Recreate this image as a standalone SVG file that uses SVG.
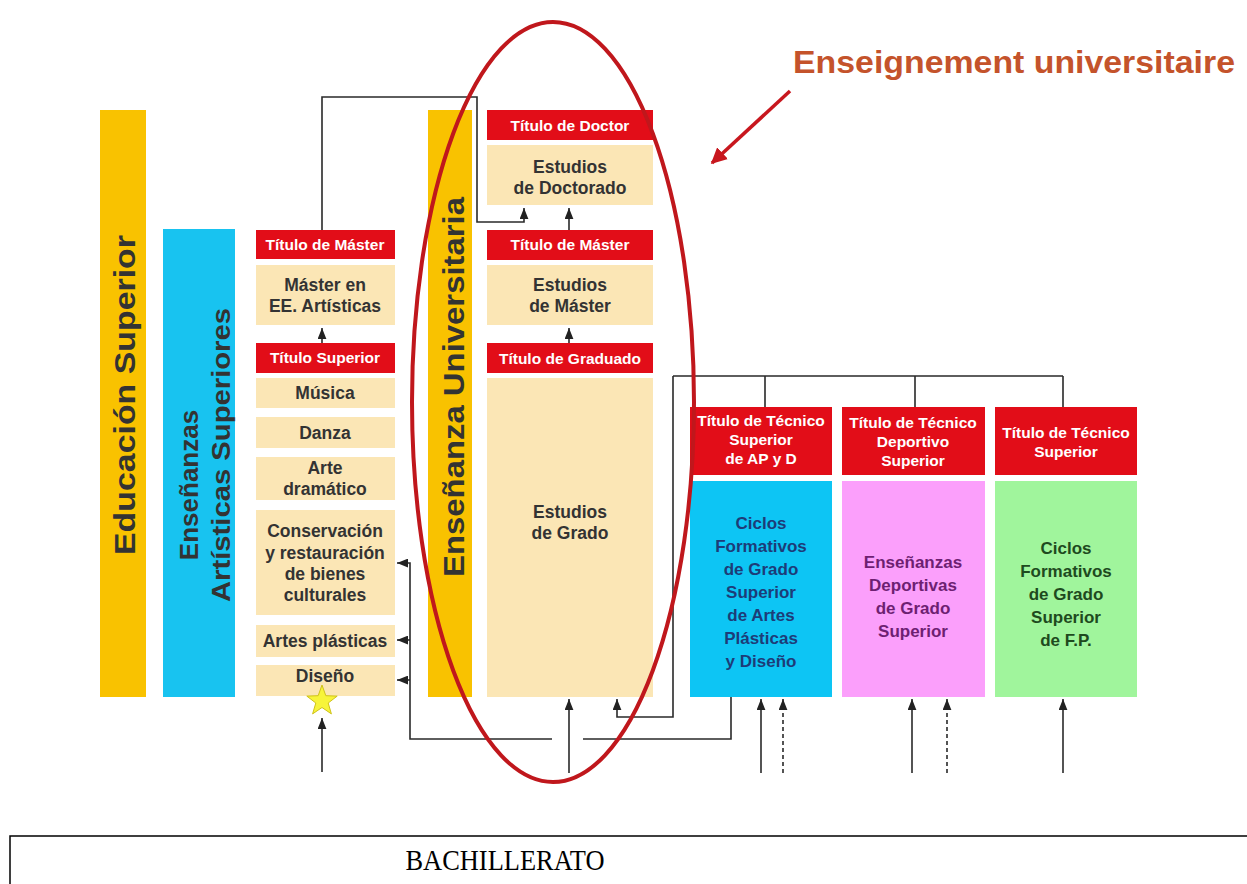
<svg xmlns="http://www.w3.org/2000/svg" width="1247" height="884" viewBox="0 0 1247 884">
<style>
.t{font-family:"Liberation Sans",Arial,sans-serif;font-weight:bold;text-anchor:middle}
.hd{fill:#ffffff;font-size:15.5px}
.bd{fill:#333333;font-size:17.5px}
.vt{fill:#333333}
.red{fill:#e20d18}
.cream{fill:#fbe6b5}
.gold{fill:#f9c200}
.ln{fill:none;stroke:#2a2a2a;stroke-width:1.6}
.ar{marker-end:url(#ah)}
.dash{stroke-dasharray:4 3}
</style>
<defs>
<marker id="ah" viewBox="0 0 10 8" refX="10" refY="4" markerWidth="11" markerHeight="9" orient="auto" markerUnits="userSpaceOnUse">
<path d="M0,0 L10,4 L0,8 z" fill="#222222"/>
</marker>
<marker id="rah" viewBox="0 0 10 10" refX="9" refY="5" markerWidth="16" markerHeight="16" orient="auto" markerUnits="userSpaceOnUse">
<path d="M0,0 L10,5 L0,10 z" fill="#c8171e"/>
</marker>
</defs>
<rect x="0" y="0" width="1247" height="884" fill="#ffffff"/>

<g id="educacion-superior">
<rect class="gold" x="100" y="110" width="46" height="587"/>
<text class="t vt" font-size="29" textLength="320" lengthAdjust="spacingAndGlyphs" transform="translate(135,395) rotate(-90)">Educación Superior</text>
</g>

<g id="ensenanzas-artisticas">
<rect x="163" y="229" width="72" height="468" fill="#18c3f0"/>
<text class="t vt" font-size="26" transform="translate(198,485) rotate(-90)">Enseñanzas</text>
<text class="t vt" font-size="26" textLength="294" lengthAdjust="spacingAndGlyphs" transform="translate(230,455) rotate(-90)">Artísticas Superiores</text>
</g>

<g id="ensenanza-universitaria">
<rect class="gold" x="428" y="110" width="44" height="587"/>
<text class="t vt" font-size="29" textLength="380" lengthAdjust="spacingAndGlyphs" transform="translate(464,387) rotate(-90)">Enseñanza Universitaria</text>
</g>

<g id="titulo-master-artes">
<rect class="red" x="256" y="230" width="139" height="29"/>
<text class="t hd" x="325" y="250">Título de Máster</text>
</g>
<g id="master-ee-artisticas">
<rect class="cream" x="256" y="265" width="139" height="60"/>
<text class="t bd" x="325" y="291">Máster en</text>
<text class="t bd" x="325" y="312">EE. Artísticas</text>
</g>
<g id="titulo-superior">
<rect class="red" x="256" y="343" width="139" height="30"/>
<text class="t hd" x="325" y="363">Título Superior</text>
</g>
<g id="musica">
<rect class="cream" x="256" y="378" width="139" height="30"/>
<text class="t bd" x="325" y="399">Música</text>
</g>
<g id="danza">
<rect class="cream" x="256" y="417" width="139" height="31"/>
<text class="t bd" x="325" y="439">Danza</text>
</g>
<g id="arte-dramatico">
<rect class="cream" x="256" y="457" width="139" height="43"/>
<text class="t bd" x="325" y="474">Arte</text>
<text class="t bd" x="325" y="495">dramático</text>
</g>
<g id="conservacion">
<rect class="cream" x="256" y="510" width="139" height="105"/>
<text class="t bd" x="325" y="537">Conservación</text>
<text class="t bd" x="325" y="559">y restauración</text>
<text class="t bd" x="325" y="580">de bienes</text>
<text class="t bd" x="325" y="601">culturales</text>
</g>
<g id="artes-plasticas">
<rect class="cream" x="256" y="625" width="139" height="32"/>
<text class="t bd" x="325" y="647">Artes plásticas</text>
</g>
<g id="diseno">
<rect class="cream" x="256" y="665" width="139" height="31"/>
<text class="t bd" x="325" y="682">Diseño</text>
</g>
<g id="star">
<polygon points="322,685 325.8,695.7 337.2,696.1 328.2,703 331.4,713.9 322,707.5 312.6,713.9 315.8,703 306.8,696.1 318.2,695.7" fill="#f7f43a" stroke="#cfc21a" stroke-width="1"/>
</g>

<g id="titulo-doctor">
<rect class="red" x="487" y="110" width="166" height="30"/>
<text class="t hd" x="570" y="131">Título de Doctor</text>
</g>
<g id="estudios-doctorado">
<rect class="cream" x="487" y="145" width="166" height="60"/>
<text class="t bd" x="570" y="173">Estudios</text>
<text class="t bd" x="570" y="194">de Doctorado</text>
</g>
<g id="titulo-master-uni">
<rect class="red" x="487" y="230" width="166" height="30"/>
<text class="t hd" x="570" y="250">Título de Máster</text>
</g>
<g id="estudios-master">
<rect class="cream" x="487" y="265" width="166" height="60"/>
<text class="t bd" x="570" y="291">Estudios</text>
<text class="t bd" x="570" y="312">de Máster</text>
</g>
<g id="titulo-graduado">
<rect class="red" x="487" y="343" width="166" height="30"/>
<text class="t hd" x="570" y="364">Título de Graduado</text>
</g>
<g id="estudios-grado">
<rect class="cream" x="487" y="378" width="166" height="319"/>
<text class="t bd" x="570" y="518">Estudios</text>
<text class="t bd" x="570" y="539">de Grado</text>
</g>

<g id="titulo-tecnico-ap">
<rect class="red" x="690" y="407" width="142" height="68"/>
<text class="t hd" x="761" y="426" font-size="15">Título de Técnico</text>
<text class="t hd" x="761" y="445" font-size="15">Superior</text>
<text class="t hd" x="761" y="464" font-size="15">de AP y D</text>
</g>
<g id="ciclos-artes">
<rect x="690" y="481" width="142" height="216" fill="#0dc5f4"/>
<g class="t" font-size="17" fill="#1d3c78">
<text x="761" y="529">Ciclos</text>
<text x="761" y="552">Formativos</text>
<text x="761" y="575">de Grado</text>
<text x="761" y="598">Superior</text>
<text x="761" y="621">de Artes</text>
<text x="761" y="644">Plásticas</text>
<text x="761" y="667">y Diseño</text>
</g>
</g>

<g id="titulo-tecnico-deportivo">
<rect class="red" x="842" y="407" width="143" height="68"/>
<text class="t hd" x="913" y="428" font-size="15">Título de Técnico</text>
<text class="t hd" x="913" y="447" font-size="15">Deportivo</text>
<text class="t hd" x="913" y="466" font-size="15">Superior</text>
</g>
<g id="ensenanzas-deportivas">
<rect x="842" y="481" width="143" height="216" fill="#fb9ffb"/>
<g class="t" font-size="17" fill="#6e1f72">
<text x="913" y="568">Enseñanzas</text>
<text x="913" y="591">Deportivas</text>
<text x="913" y="614">de Grado</text>
<text x="913" y="637">Superior</text>
</g>
</g>

<g id="titulo-tecnico-superior">
<rect class="red" x="995" y="407" width="142" height="68"/>
<text class="t hd" x="1066" y="438" font-size="15">Título de Técnico</text>
<text class="t hd" x="1066" y="457" font-size="15">Superior</text>
</g>
<g id="ciclos-fp">
<rect x="995" y="481" width="142" height="216" fill="#a0f59c"/>
<g class="t" font-size="17" fill="#1e4a1e">
<text x="1066" y="554">Ciclos</text>
<text x="1066" y="577">Formativos</text>
<text x="1066" y="600">de Grado</text>
<text x="1066" y="623">Superior</text>
<text x="1066" y="646">de F.P.</text>
</g>
</g>

<g id="connectors">
<path class="ln ar" d="M322,230 V97 H477 V222 H524 V208"/>
<path class="ln ar" d="M569,230 V208"/>
<path class="ln ar" d="M322,343 V328"/>
<path class="ln ar" d="M569,343 V328"/>
<path class="ln" d="M673,376 H1063 M765,376 V407 M915,376 V407 M1063,376 V407"/>
<path class="ln ar" d="M673,376 V717 H617 V699"/>
<path class="ln" d="M731,697 V739 H583"/>
<path class="ln ar" d="M552,739 H410 V563 H397"/>
<path class="ln ar" d="M410,640 H397"/>
<path class="ln ar" d="M410,680 H397"/>
<path class="ln ar" d="M322,772 V718"/>
<path class="ln ar" d="M569,773 V699"/>
<path class="ln ar" d="M761,773 V699"/>
<path class="ln ar dash" d="M783,773 V699"/>
<path class="ln ar" d="M912,773 V699"/>
<path class="ln ar dash" d="M947,773 V699"/>
<path class="ln ar" d="M1063,773 V699"/>
</g>

<g id="highlight">
<ellipse cx="553" cy="402" rx="141" ry="380" fill="none" stroke="#c0171c" stroke-width="4"/>
<path d="M790,91 L712,163" fill="none" stroke="#c8171e" stroke-width="3.5" marker-end="url(#rah)"/>
<text class="t" x="1014" y="73" font-size="32" fill="#c4532b" textLength="442" lengthAdjust="spacingAndGlyphs">Enseignement universitaire</text>
</g>

<g id="bachillerato">
<rect x="10" y="836" width="1250" height="60" fill="#ffffff" stroke="#000000" stroke-width="1.5"/>
<text x="505" y="870" font-family="'Liberation Serif','Times New Roman',serif" font-size="29" text-anchor="middle" fill="#000000" textLength="199" lengthAdjust="spacingAndGlyphs">BACHILLERATO</text>
</g>
</svg>
